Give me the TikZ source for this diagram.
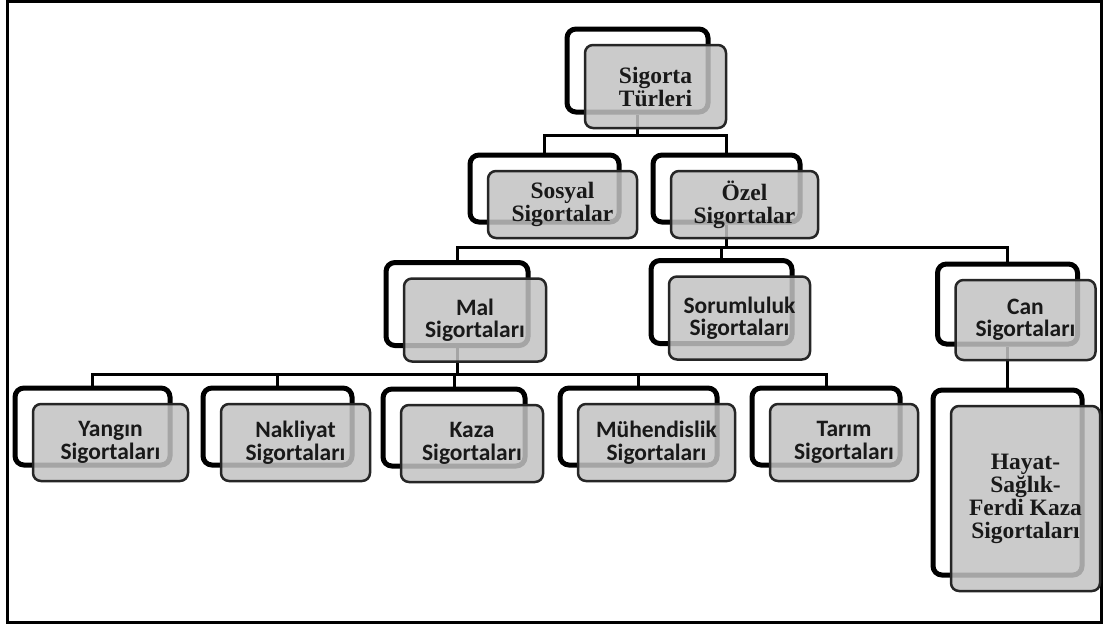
\documentclass[tikz,border=0pt]{standalone}
\usepackage{fontspec}
\setmainfont{Liberation Serif}
\newfontfamily\calfont{Carlito}
\usetikzlibrary{calc}
\pgfdeclarelayer{bg}
\pgfsetlayers{bg,main}
\tikzset{
  backbox/.style={draw=black, line width=5pt, fill=white, rounded corners=9pt, inner sep=0pt},
  frontbox/.style={draw=black!85, line width=2.5pt, fill=black!24, fill opacity=0.85, text opacity=1,
    rounded corners=8pt, align=center, inner sep=0pt, text=black!90},
  conn/.style={line width=3pt, draw=black},
  serifbox/.style={font=\fontsize{23.5}{23}\selectfont\bfseries},
  sansbox/.style={font=\calfont\fontsize{23.5}{22.5}\selectfont\bfseries},
  frame/.style={line width=3pt, draw=black}
}
\newcommand\dualbox[7]{%
  \node[backbox, minimum width=#4pt, minimum height=#5pt] (#1B) at (#2,#3) {};
  \node[frontbox, #6, minimum width=#4pt, minimum height=#5pt] (#1) at ($(#1B)+(18,16)$) {#7};
}
\begin{document}
\begin{tikzpicture}[x=1pt,y=-1pt]
\useasboundingbox (0,0) rectangle (1103,625);
\draw[frame] (7.5,1.5) rectangle (1101.5,622);

\dualbox{sig}{637.5}{70.5}{141}{83}{serifbox}{Sigorta\\Türleri}
\dualbox{sos}{544.5}{188.5}{149}{67}{serifbox}{Sosyal\\Sigortalar}
\dualbox{oze}{726.5}{188.5}{147}{67}{serifbox}{Özel\\Sigortalar}
\dualbox{mal}{457}{304}{142}{83}{sansbox}{Mal\\Sigortaları}
\dualbox{sor}{721.5}{302}{141}{83}{sansbox}{Sorumluluk\\Sigortaları}
\dualbox{can}{1007.5}{304}{140}{80}{sansbox}{Can\\Sigortaları}
\dualbox{hay}{1007.5}{482.5}{149}{185}{serifbox}{Hayat-\\Sağlık-\\Ferdi Kaza\\Sigortaları}
\dualbox{yan}{92.5}{426.5}{155}{77}{sansbox}{Yangın\\Sigortaları}
\dualbox{nak}{277.5}{426.5}{149}{77}{sansbox}{Nakliyat\\Sigortaları}
\dualbox{kaz}{454}{427.5}{142}{77}{sansbox}{Kaza\\Sigortaları}
\dualbox{muh}{638.5}{426.5}{157}{77}{sansbox}{Mühendislik\\Sigortaları}
\dualbox{tar}{826}{426.5}{148}{77}{sansbox}{Tarım\\Sigortaları}

\begin{pgfonlayer}{bg}
\coordinate (bus1) at (0,135);
\coordinate (bus2) at (0,247);
\coordinate (bus3) at (0,374);
\draw[conn] (sigB.south) -- (sigB.south |- bus1) -| (sosB.north);
\draw[conn] (sigB.south |- bus1) -| (ozeB.north);
\draw[conn] (ozeB.south) -- (ozeB.south |- bus2) -| (malB.north);
\draw[conn] (ozeB.south |- bus2) -| (sorB.north);
\draw[conn] (ozeB.south |- bus2) -| (canB.north);
\draw[conn] (canB.south) -- (hayB.north);
\draw[conn] (malB.south) -- (malB.south |- bus3) -| (yanB.north);
\draw[conn] (malB.south |- bus3) -| (nakB.north);
\draw[conn] (malB.south |- bus3) -| (kazB.north);
\draw[conn] (malB.south |- bus3) -| (muhB.north);
\draw[conn] (malB.south |- bus3) -| (tarB.north);
\end{pgfonlayer}
\end{tikzpicture}
\end{document}
